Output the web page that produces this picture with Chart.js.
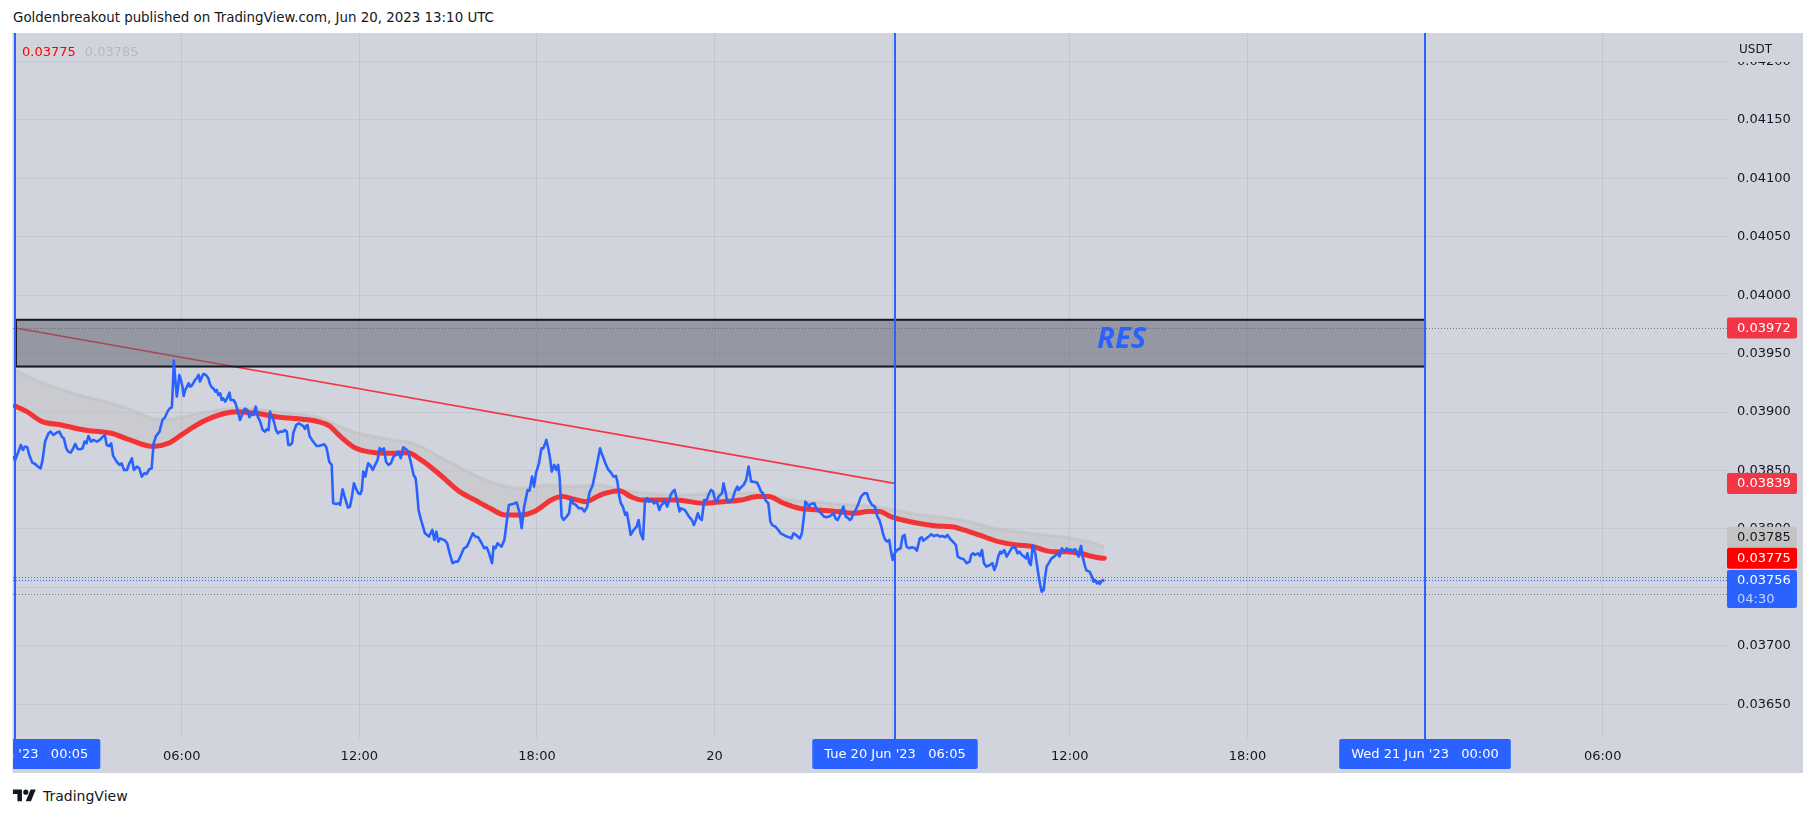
<!DOCTYPE html>
<html>
<head>
<meta charset="utf-8">
<script src="https://cdn.jsdelivr.net/npm/chart.js@4.4.0/dist/chart.umd.min.js"></script>
<style>
  html, body { margin: 0; padding: 0; background: #ffffff; width: 1815px; height: 818px; overflow: hidden; }
  #hdr { position: absolute; left: 13px; top: 10px; font: 13.4px "DejaVu Sans", sans-serif; color: #131722; white-space: nowrap; }
  #ftr { position: absolute; left: 12px; top: 787px; font: 14px "DejaVu Sans", sans-serif; color: #131722; display: flex; align-items: center; }
  #ftr svg { margin-right: 6px; }
  #c { position: absolute; left: 0; top: 0; }
</style>
</head>
<body>
<div id="hdr">Goldenbreakout published on TradingView.com, Jun 20, 2023 13:10 UTC</div>
<div id="ftr"><svg width="25" height="18" viewBox="0 0 36 28"><path d="M14 22H7V11H0V4h14v18zM28 22h-8l7.5-18h8L28 22z" fill="#131722"/><circle cx="20" cy="8" r="4" fill="#131722"/></svg><span>TradingView</span></div>
<canvas id="c" width="1815" height="818"></canvas>
<script>
// ---------- DATA (time = minutes since 19 Jun 2023 00:00 UTC) ----------
const priceTimes = [
  19,22,29,34,38,42,47,51,57,63,
  67,74,78,83,90,94,100,107,112,117,
  121,126,130,135,140,144,149,154,159,163,
  167,171,176,181,188,194,200,204,208,213,
  217,221,228,234,238,243,249,254,259,263,
  269,274,279,284,289,294,299,303,308,315,
  321,326,331,336,340,342,344,347,350,352,
  355,358,362,364,367,370,374,377,380,384,
  387,390,394,397,401,404,409,414,417,421,
  424,428,431,434,438,441,444,448,451,457,
  459,465,469,473,478,484,488,493,497,502,
  505,510,514,519,524,529,532,536,539,542,
  546,551,555,559,565,569,573,576,580,584,
  586,592,597,603,607,610,612,615,619,624,
  629,634,638,644,649,653,655,659,664,667,
  673,678,681,686,691,697,701,705,709,713,
  718,722,725,728,732,735,738,743,747,752,
  757,761,765,770,774,779,784,789,794,799,
  804,809,815,819,824,830,834,836,840,845,
  853,861,868,872,876,880,884,892,898,903,
  909,915,920,926,932,938,944,950,955,961,
  968,973,978,983,989,992,996,1000,1008,1014,
  1020,1023,1031,1039,1045,1049,1054,1061,1065,1070,
  1074,1078,1084,1089,1093,1099,1103,1107,1110,1115,
  1119,1123,1126,1130,1134,1140,1145,1149,1153,1159,
  1165,1171,1176,1182,1186,1193,1198,1202,1208,1211,
  1215,1220,1225,1230,1235,1240,1243,1247,1250,1254,
  1259,1262,1265,1270,1276,1282,1286,1290,1295,1299,
  1303,1307,1313,1317,1323,1328,1332,1336,1338,1344,
  1348,1351,1355,1359,1363,1369,1372,1379,1382,1388,
  1394,1398,1402,1406,1410,1414,1419,1424,1429,1433,
  1437,1441,1445,1448,1455,1458,1462,1465,1470,1476,
  1481,1486,1489,1495,1499,1504,1509,1514,1518,1526,
  1530,1534,1538,1543,1549,1553,1557,1563,1569,1574,
  1580,1586,1592,1596,1600,1605,1610,1613,1617,1621,
  1624,1627,1631,1635,1642,1646,1652,1656,1662,1666,
  1672,1677,1681,1685,1689,1693,1697,1701,1706,1711,
  1714,1718,1721,1726,1732,1734,1737,1743,1749,1753,
  1759,1765,1770,1774,1778,1782,1786,1790,1794,1797,
  1801,1805,1810,1817,1821,1825,1829,1835,1840,1846,
  1850,1856,1860,1863,1867,1874,1879,1884,1891,1897,
  1902,1908,1912,1918,1923,1929,1933,1939,1945,1951,
  1957,1960,1964,1968,1974,1978,1982,1986,1991,1998,
  2003,2007,2011,2015,2019,2022,2027,2032,2038,2042,
  2047,2051,2054,2058,2063,2067,2071,2074,2078,2081,
  2085,2090,2093,2096,2100,2103,2107,2110,2113,2119,
  2123,2128,2132,2137,2139,2144,2147,2151,2154,2157,
  2161,2164,2167,2171,2174,2178,2181,2183,2186,2191,
  2194,2200,2205,2208,2211,2215,2218,2221,2225,2230
];
const priceValues = [
  0.038625,0.038585,0.038662,0.038719,0.038676,0.038705,0.038699,0.038633,0.038568,0.038556,
  0.038539,0.038519,0.038591,0.038748,0.038819,0.038833,0.038805,0.038825,0.038833,0.038790,
  0.038776,0.038690,0.038662,0.038653,0.038690,0.038728,0.038685,0.038682,0.038690,0.038748,
  0.038733,0.038796,0.038748,0.038762,0.038748,0.038762,0.038790,0.038805,0.038719,0.038710,
  0.038733,0.038625,0.038576,0.038548,0.038562,0.038505,0.038505,0.038562,0.038605,0.038505,
  0.038534,0.038519,0.038448,0.038477,0.038471,0.038511,0.038519,0.038733,0.038796,0.038833,
  0.038933,0.038956,0.039004,0.039033,0.039041,0.039218,0.039441,0.039275,0.039133,0.039195,
  0.039318,0.039281,0.039204,0.039138,0.039190,0.039212,0.039247,0.039218,0.039224,0.039252,
  0.039275,0.039289,0.039318,0.039261,0.039304,0.039327,0.039318,0.039289,0.039241,0.039212,
  0.039204,0.039175,0.039190,0.039147,0.039161,0.039104,0.039118,0.039090,0.039110,0.039167,
  0.039104,0.039104,0.039076,0.039018,0.038933,0.038996,0.039030,0.039018,0.038956,0.038990,
  0.038976,0.039047,0.038962,0.038919,0.038847,0.038833,0.038853,0.038847,0.039004,0.038962,
  0.038933,0.038847,0.038819,0.038833,0.038833,0.038847,0.038833,0.038719,0.038719,0.038739,
  0.038819,0.038890,0.038904,0.038890,0.038876,0.038856,0.038882,0.038890,0.038796,0.038762,
  0.038733,0.038710,0.038710,0.038719,0.038725,0.038699,0.038662,0.038576,0.038548,0.038220,
  0.038214,0.038220,0.038206,0.038340,0.038263,0.038183,0.038191,0.038277,0.038391,0.038348,
  0.038305,0.038300,0.038334,0.038491,0.038448,0.038511,0.038562,0.038539,0.038505,0.038548,
  0.038591,0.038690,0.038676,0.038690,0.038576,0.038548,0.038562,0.038619,0.038633,0.038662,
  0.038605,0.038699,0.038682,0.038662,0.038576,0.038462,0.038434,0.038362,0.038163,0.038077,
  0.037963,0.037935,0.037992,0.037906,0.037977,0.037892,0.037920,0.037906,0.037878,0.037792,
  0.037707,0.037721,0.037721,0.037778,0.037835,0.037849,0.037906,0.037963,0.037935,0.037929,
  0.037878,0.037835,0.037843,0.037792,0.037707,0.037849,0.037835,0.037878,0.037849,0.037906,
  0.038106,0.038206,0.038214,0.038226,0.038134,0.038006,0.038191,0.038334,0.038328,0.038448,
  0.038363,0.038477,0.038562,0.038690,0.038690,0.038762,0.038690,0.038591,0.038491,0.038548,
  0.038505,0.038548,0.038434,0.038106,0.038077,0.038106,0.038134,0.038263,0.038220,0.038206,
  0.038177,0.038177,0.038149,0.038191,0.038305,0.038377,0.038477,0.038562,0.038690,0.038648,
  0.038605,0.038548,0.038505,0.038482,0.038448,0.038454,0.038405,0.038277,0.038220,0.038191,
  0.038120,0.038140,0.038077,0.037949,0.037992,0.038020,0.038077,0.037963,0.037912,0.038248,
  0.038263,0.038234,0.038248,0.038220,0.038234,0.038163,0.038206,0.038220,0.038248,0.038191,
  0.038248,0.038291,0.038320,0.038334,0.038263,0.038149,0.038177,0.038163,0.038149,0.038106,
  0.038077,0.038034,0.038077,0.038134,0.038092,0.038077,0.038248,0.038248,0.038305,0.038334,
  0.038320,0.038248,0.038234,0.038277,0.038305,0.038391,0.038320,0.038248,0.038234,0.038248,
  0.038320,0.038363,0.038334,0.038363,0.038377,0.038420,0.038534,0.038405,0.038405,0.038397,
  0.038363,0.038320,0.038305,0.038248,0.038220,0.038063,0.038034,0.038020,0.037992,0.037963,
  0.037949,0.037935,0.037929,0.037920,0.037963,0.037949,0.037929,0.037920,0.037963,0.038106,
  0.038234,0.038220,0.038191,0.038214,0.038220,0.038177,0.038149,0.038134,0.038106,0.038100,
  0.038106,0.038120,0.038134,0.038092,0.038077,0.038106,0.038149,0.038191,0.038106,0.038092,
  0.038077,0.038092,0.038134,0.038163,0.038220,0.038248,0.038277,0.038305,0.038305,0.038248,
  0.038206,0.038191,0.038106,0.038077,0.038020,0.037949,0.037906,0.037892,0.037906,0.037820,
  0.037735,0.037792,0.037820,0.037835,0.037935,0.037949,0.037849,0.037835,0.037843,0.037835,
  0.037815,0.037920,0.037929,0.037900,0.037912,0.037935,0.037955,0.037940,0.037949,0.037935,
  0.037940,0.037929,0.037949,0.037912,0.037892,0.037863,0.037763,0.037749,0.037741,0.037707,
  0.037721,0.037778,0.037792,0.037778,0.037792,0.037769,0.037820,0.037707,0.037678,0.037692,
  0.037707,0.037650,0.037692,0.037764,0.037806,0.037792,0.037820,0.037764,0.037806,0.037835,
  0.037849,0.037826,0.037792,0.037806,0.037778,0.037764,0.037749,0.037792,0.037707,0.037692,
  0.037863,0.037792,0.037707,0.037621,0.037521,0.037464,0.037478,0.037592,0.037678,0.037721,
  0.037749,0.037764,0.037778,0.037792,0.037764,0.037835,0.037820,0.037815,0.037835,0.037815,
  0.037826,0.037806,0.037820,0.037826,0.037792,0.037764,0.037835,0.037855,0.037764,0.037678,
  0.037644,0.037635,0.037592,0.037550,0.037564,0.037535,0.037550,0.037530,0.037558,0.037560
];
const maTimes = [
  22,46,77,116,162,217,255,302,333,364,
  403,442,473,511,558,605,636,659,682,713,
  752,791,818,845,884,923,954,985,1016,1047,
  1078,1109,1132,1155,1179,1208,1223,1247,1270,1293,
  1324,1363,1417,1456,1495,1526,1549,1580,1611,1650,
  1689,1720,1751,1774,1797,1821,1852,1891,1922,1945,
  1976,2015,2052,2086,2107,2127,2154,2181,2201,2221,2230
];
const maRed = [
  0.039053,0.039004,0.038919,0.038890,0.038847,0.038819,0.038762,0.038705,0.038733,0.038819,
  0.038919,0.038984,0.039004,0.038990,0.038956,0.038939,0.038919,0.038882,0.038790,0.038690,
  0.038653,0.038648,0.038653,0.038591,0.038462,0.038320,0.038248,0.038177,0.038120,0.038120,
  0.038157,0.038248,0.038277,0.038254,0.038234,0.038290,0.038311,0.038328,0.038277,0.038248,
  0.038248,0.038248,0.038220,0.038234,0.038248,0.038277,0.038277,0.038220,0.038177,0.038163,
  0.038149,0.038134,0.038149,0.038149,0.038106,0.038077,0.038049,0.038026,0.038020,0.037992,
  0.037949,0.037892,0.037863,0.037849,0.037820,0.037806,0.037806,0.037792,0.037769,0.037752,0.037750
];
const maGray = [
  0.039361,0.039310,0.039250,0.039195,0.039135,0.039075,0.039025,0.038947,0.038939,0.038962,
  0.038997,0.039022,0.039030,0.039025,0.039000,0.038980,0.038955,0.038919,0.038876,0.038825,
  0.038790,0.038760,0.038745,0.038705,0.038615,0.038530,0.038462,0.038405,0.038365,0.038348,
  0.038362,0.038377,0.038370,0.038363,0.038370,0.038377,0.038365,0.038340,0.038320,0.038310,
  0.038300,0.038291,0.038300,0.038305,0.038305,0.038305,0.038295,0.038260,0.038240,0.038228,
  0.038212,0.038205,0.038197,0.038185,0.038167,0.038150,0.038125,0.038105,0.038090,0.038072,
  0.038040,0.038000,0.037980,0.037960,0.037948,0.037940,0.037930,0.037905,0.037890,0.037860,0.037850
];
const priceTicks = [0.0365,0.0370,0.0375,0.0380,0.0385,0.0390,0.0395,0.0400,0.0405,0.0410,0.0415,0.0420];
const timeTicks = [360,720,1080,1440,1800,2160,2520,2880,3240];
const timeTickLabels = ['06:00','12:00','18:00','20','','12:00','18:00','','06:00'];
const markerTimes = [23,1805,2880];
const markerLabels = ["Mon 19 Jun '23   00:05","Tue 20 Jun '23   06:05","Wed 21 Jun '23   00:00"];
const trendTimes = [23,1805];
const trendPrices = [0.03972,0.03839];
const zoneTimes = [24,2880];
const zonePrices = [0.03939,0.03979];
const zoneText = 'RES';
const zoneTextTime = 2215;
const zoneTextPrice = 0.03962;
const dottedPrices = [0.03972,0.03759,0.03756,0.03744];
const dottedColors = ['#787b86','#f23645','#2962ff','#787b86'];
const legendValues = ['0.03775','0.03785'];
const lastPrice = 0.03756, lastRed = 0.03775, lastGray = 0.03785;
const countdown = '04:30';
const axisUnit = 'USDT';
const X_MIN = 18, X_MAX = 3492, Y_MIN = 0.036203, Y_MAX = 0.042244;

// ---------- CHART ----------
const BG = '#d1d4dc';
const FONT = '"DejaVu Sans", sans-serif';

function rrect(ctx, x, y, w, h, r) {
  ctx.beginPath();
  ctx.moveTo(x + r, y); ctx.lineTo(x + w - r, y); ctx.quadraticCurveTo(x + w, y, x + w, y + r);
  ctx.lineTo(x + w, y + h - r); ctx.quadraticCurveTo(x + w, y + h, x + w - r, y + h);
  ctx.lineTo(x + r, y + h); ctx.quadraticCurveTo(x, y + h, x, y + h - r);
  ctx.lineTo(x, y + r); ctx.quadraticCurveTo(x, y, x + r, y); ctx.closePath();
}

const overlay = {
  id: 'overlay',
  beforeDraw(chart) {
    const ctx = chart.ctx;
    ctx.save();
    ctx.fillStyle = BG;
    ctx.fillRect(12.5, 33, 1790.5, 740);
    ctx.restore();
  },
  beforeDatasetsDraw(chart) {
    const { ctx, chartArea: a, scales: { x, y } } = chart;
    ctx.save();
    ctx.beginPath(); ctx.rect(a.left, a.top, a.right - a.left, a.bottom - a.top); ctx.clip();
    dottedPrices.forEach((p, i) => {
      const py = Math.round(y.getPixelForValue(p)) + 0.5;
      ctx.strokeStyle = dottedColors[i]; ctx.lineWidth = 1; ctx.setLineDash([1, 2]);
      ctx.beginPath(); ctx.moveTo(a.left, py); ctx.lineTo(a.right, py); ctx.stroke();
    });
    ctx.setLineDash([]);
    ctx.strokeStyle = '#f23645'; ctx.lineWidth = 1.6;
    ctx.beginPath();
    ctx.moveTo(x.getPixelForValue(trendTimes[0]), y.getPixelForValue(trendPrices[0]));
    ctx.lineTo(x.getPixelForValue(trendTimes[1]), y.getPixelForValue(trendPrices[1]));
    ctx.stroke();
    const zx0 = x.getPixelForValue(zoneTimes[0]), zx1 = x.getPixelForValue(zoneTimes[1]);
    const zy0 = y.getPixelForValue(zonePrices[1]), zy1 = y.getPixelForValue(zonePrices[0]);
    ctx.fillStyle = 'rgba(90,92,105,0.5)';
    ctx.fillRect(zx0, zy0, zx1 - zx0, zy1 - zy0);
    ctx.strokeStyle = '#131722'; ctx.lineWidth = 2;
    ctx.strokeRect(zx0, zy0, zx1 - zx0, zy1 - zy0);
    ctx.font = 'italic bold 29px "Noto Sans", sans-serif';
    ctx.fillStyle = '#2962ff'; ctx.textBaseline = 'middle'; ctx.textAlign = 'left';
    ctx.fillText(zoneText, x.getPixelForValue(zoneTextTime), y.getPixelForValue(zoneTextPrice));
    ctx.restore();
  },
  afterDatasetsDraw(chart) {
    const { ctx, chartArea: a, scales: { x, y } } = chart;
    ctx.save();
    ctx.strokeStyle = '#2962ff'; ctx.lineWidth = 2;
    markerTimes.forEach(t => {
      const px = Math.round(x.getPixelForValue(t));
      ctx.beginPath(); ctx.moveTo(px, a.top); ctx.lineTo(px, a.bottom); ctx.stroke();
    });
    ctx.font = '13px ' + FONT; ctx.textBaseline = 'middle'; ctx.textAlign = 'left';
    ctx.fillStyle = '#ff0000'; ctx.fillText(legendValues[0], a.left + 9, 53);
    const w0 = ctx.measureText(legendValues[0]).width;
    ctx.fillStyle = '#b8b8b8'; ctx.fillText(legendValues[1], a.left + 9 + w0 + 9, 53);
    ctx.fillStyle = BG; ctx.fillRect(a.right, a.top, 76, 29);
    ctx.fillStyle = '#131722'; ctx.font = '12px ' + FONT;
    ctx.fillText(axisUnit, a.right + 12, 50);
    const lx = a.right, lw = 70;
    const drawLabel = (cy, h, bg, fg, text, sub) => {
      ctx.fillStyle = bg; rrect(ctx, lx, cy - 10.5, lw, h, 2); ctx.fill();
      ctx.font = '13px ' + FONT; ctx.fillStyle = fg; ctx.textAlign = 'left'; ctx.textBaseline = 'middle';
      ctx.fillText(text, lx + 10, cy + 0.5);
      if (sub) { ctx.fillStyle = 'rgba(255,255,255,0.72)'; ctx.fillText(sub, lx + 10, cy + 19); }
    };
    drawLabel(y.getPixelForValue(trendPrices[0]), 21, '#f23645', '#ffffff', trendPrices[0].toFixed(5));
    drawLabel(y.getPixelForValue(trendPrices[1]), 21, '#f23645', '#ffffff', trendPrices[1].toFixed(5));
    const cLast = y.getPixelForValue(lastPrice);
    const cRed = Math.min(y.getPixelForValue(lastRed), cLast - 21.5);
    const cGray = Math.min(y.getPixelForValue(lastGray), cRed - 21);
    drawLabel(cGray, 21, '#c3c3c3', '#131722', lastGray.toFixed(5));
    drawLabel(cRed, 21, '#ff0000', '#ffffff', lastRed.toFixed(5));
    drawLabel(cLast, 38, '#2962ff', '#ffffff', lastPrice.toFixed(5), countdown);
    ctx.save();
    ctx.beginPath(); ctx.rect(a.left, a.bottom, 1803 - a.left, 40); ctx.clip();
    ctx.font = '13px ' + FONT; ctx.textAlign = 'center'; ctx.textBaseline = 'middle';
    markerTimes.forEach((t, i) => {
      const px = Math.round(x.getPixelForValue(t));
      const tw = ctx.measureText(markerLabels[i]).width + 24;
      ctx.fillStyle = '#2962ff'; rrect(ctx, px - tw / 2, a.bottom, tw, 30, 2); ctx.fill();
      ctx.fillStyle = '#ffffff'; ctx.fillText(markerLabels[i], px, a.bottom + 16);
    });
    ctx.restore();
    ctx.restore();
  }
};

new Chart(document.getElementById('c'), {
  type: 'line',
  data: {
    datasets: [
      {
        label: 'Price', order: 1,
        data: priceTimes.map((t, i) => ({ x: t, y: priceValues[i] })),
        borderColor: '#2962ff', borderWidth: 2.6, pointRadius: 0, tension: 0,
        borderJoinStyle: 'round', fill: false
      },
      {
        label: 'MA fast', order: 2,
        data: maTimes.map((t, i) => ({ x: t, y: maRed[i] })),
        borderColor: 'rgba(255,0,0,0.75)', borderWidth: 5, pointRadius: 0,
        cubicInterpolationMode: 'monotone', borderCapStyle: 'round', fill: false
      },
      {
        label: 'MA slow', order: 3,
        data: maTimes.map((t, i) => ({ x: t, y: maGray[i] })),
        borderColor: 'rgba(192,192,192,0.55)', borderWidth: 3, pointRadius: 0,
        cubicInterpolationMode: 'monotone',
        fill: { target: 1 }, backgroundColor: 'rgba(185,185,190,0.35)'
      }
    ]
  },
  options: {
    responsive: false, animation: false, devicePixelRatio: 1,
    layout: { padding: { left: 13, right: 12, top: 33, bottom: 45 } },
    plugins: { legend: { display: false }, tooltip: { enabled: false } },
    scales: {
      x: {
        type: 'linear', position: 'bottom', min: X_MIN, max: X_MAX,
        afterFit(s) { s.height = 34; },
        afterBuildTicks(s) { s.ticks = timeTicks.map(v => ({ value: v })); },
        grid: { color: 'rgba(42,46,57,0.07)', drawTicks: false },
        border: { display: false },
        ticks: {
          autoSkip: false, maxRotation: 0, padding: 10,
          color: '#131722', font: { family: 'DejaVu Sans', size: 13 },
          callback: (v) => { const i = timeTicks.indexOf(v); return i >= 0 ? timeTickLabels[i] : ''; }
        }
      },
      y: {
        type: 'linear', position: 'right', min: Y_MIN, max: Y_MAX,
        afterFit(s) { s.width = 76; },
        afterBuildTicks(s) { s.ticks = priceTicks.map(v => ({ value: v })); },
        grid: { color: 'rgba(42,46,57,0.07)', drawTicks: false },
        border: { display: false },
        ticks: {
          padding: 10, color: '#131722', font: { family: 'DejaVu Sans', size: 13 },
          callback: (v) => Number(v).toFixed(5)
        }
      }
    }
  },
  plugins: [overlay]
});
</script>
</body>
</html>
